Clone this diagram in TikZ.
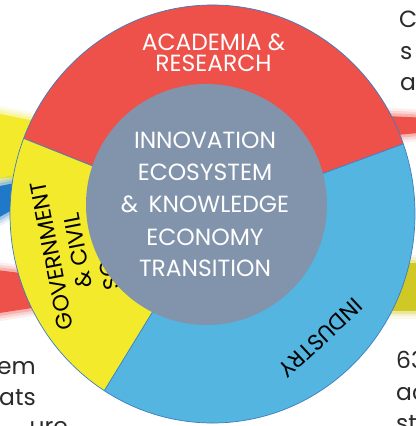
\documentclass[tikz,border=0pt]{standalone}
\usepackage{fontspec}
\setmainfont{Poppins}
\definecolor{acad}{HTML}{EE504A}
\definecolor{gov}{HTML}{F3EA2C}
\definecolor{ind}{HTML}{53B5E0}
\definecolor{core}{HTML}{8294AC}
\definecolor{edgeblue}{HTML}{3C7DC0}
\definecolor{olive}{HTML}{D0C824}
\definecolor{bgblue}{HTML}{1F78C8}
\definecolor{ink}{HTML}{2A2A2A}
\newcommand\softshape[2]{%
  \foreach \w/\o in {16/0.1,11/0.15,6/0.25}{\draw[#1, line width=\w bp, opacity=\o, line join=round] #2 -- cycle;}
  \fill[#1] #2 -- cycle;}
\begin{document}
\begin{tikzpicture}[x=1bp,y=1bp,
  segline/.style={draw=edgeblue, line width=0.7bp},
  wlbl/.style={text=white, inner sep=0pt, font=\fontsize{23.5}{23.5}\selectfont},
  blbl/.style={text=black, inner sep=0pt, font=\fontsize{22.5}{22.5}\selectfont},
  side/.style={text=ink, inner sep=0pt, font=\fontsize{23.5}{23.5}\selectfont}]
\useasboundingbox (0,0) rectangle (416,426);
\clip (0,0) rectangle (416,426);
\fill[white] (0,0) rectangle (416,426);
% background remnants
\softshape{gov}{(-20,316) -- (60,300) -- (60,252) -- (-20,246)}
\softshape{bgblue}{(-20,236) -- (30,246) -- (30,226) -- (-20,198)}
\softshape{acad}{(-20,158) -- (45,150) -- (45,120) -- (-20,110)}
\softshape{acad}{(385,310) -- (430,308) -- (430,294) -- (385,290)}
\softshape{olive}{(370,163) -- (430,163) -- (430,115) -- (370,115)}
% ring
\coordinate (O) at (212.5,212);
\fill[acad] (O) -- ++(19.6:202.5 and 209) arc[start angle=19.6,end angle=158.8,x radius=202.5,y radius=209] -- cycle;
\fill[gov] (O) -- ++(158.8:202.5 and 209) arc[start angle=158.8,end angle=237.7,x radius=202.5,y radius=209] -- cycle;
\fill[ind] (O) -- ++(237.7:202.5 and 209) arc[start angle=237.7,end angle=379.6,x radius=202.5,y radius=209] -- cycle;
\draw[segline] (O) ellipse[x radius=202.5,y radius=209];
\draw[segline] (O) -- ++(19.6:202.5 and 209);
\draw[segline] (O) -- ++(158.8:202.5 and 209);
\draw[segline] (O) -- ++(237.7:202.5 and 209);
% ring labels
\node[blbl, rotate=101] (gov1) at (52,170) {GOVERNMENT};
\node[blbl, rotate=101] (gov2) at (78,175) {\&\ CIVIL};
\node[blbl, rotate=101] (gov3) at (104,180) {SOCIETY};
\node[blbl, rotate=223] (indl) at (320.5,88) {INDUSTRY};
\node[wlbl, anchor=base] (ac1) at (213.5,376) {ACADEMIA \&};
\node[wlbl, anchor=base] (ac2) at (213.5,355) {RESEARCH};
% core
\fill[core] (206.5,221.5) circle[radius=120.5];
\node[wlbl, anchor=base] (c1) at (205,278) {INNOVATION};
\node[wlbl, anchor=base] (c2) at (205,246) {ECOSYSTEM};
\node[wlbl, anchor=base] (c3) at (205,214) {\&\hspace{0.45em}KNOWLEDGE};
\node[wlbl, anchor=base] (c4) at (205,181) {ECONOMY};
\node[wlbl, anchor=base] (c5) at (205,150) {TRANSITION};
% cut-off side texts
\node[side, anchor=base west] (r1) at (399,398) {C};
\node[side, anchor=base west] (r2) at (400,367) {s};
\node[side, anchor=base west] (r3) at (400,336) {a};
\node[side, anchor=base west] (r4) at (396,58) {63};
\node[side, anchor=base west] (r5) at (396,26) {ac};
\node[side, anchor=base west] (r6) at (396,-5) {st};
\node[side, anchor=base east] (l1) at (36,52) {em};
\node[side, anchor=base east] (l2) at (36,21) {ats};
\node[side, anchor=base east] (l3) at (68,-8) {ure};
\end{tikzpicture}
\end{document}
